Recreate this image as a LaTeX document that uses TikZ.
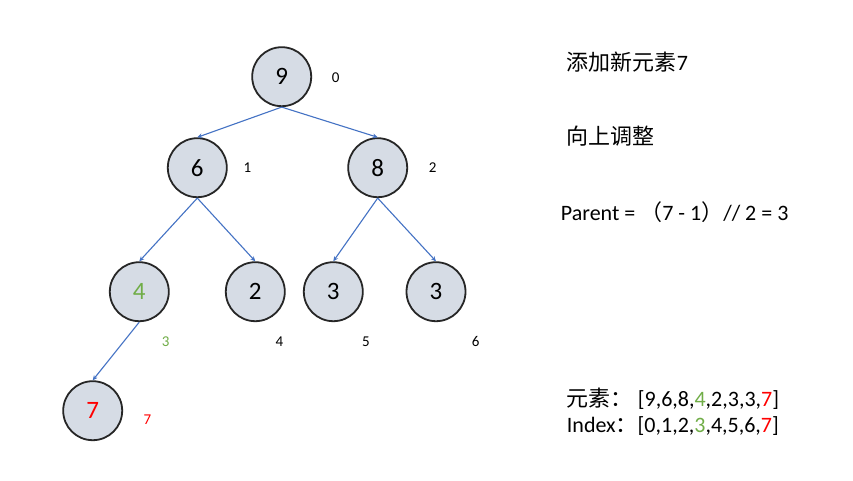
\documentclass[tikz,border=0pt]{standalone}
\usepackage{fontspec}
\setmainfont{Carlito}
\newfontfamily\cjk{Noto Sans CJK SC}
\usetikzlibrary{arrows.meta}
\definecolor{nodefill}{HTML}{D6DCE5}
\definecolor{nodeline}{HTML}{262626}
\definecolor{edgeblue}{HTML}{4472C4}
\definecolor{newgreen}{HTML}{70AD47}
\definecolor{newred}{HTML}{FF0000}
\begin{document}
\begin{tikzpicture}[x=1pt,y=-1pt]
    \tikzstyle{heapnode}=[circle,draw=nodeline,fill=nodefill,line width=1.8pt,minimum size=59pt,inner sep=0pt,font=\fontsize{25}{29}\selectfont]
    \tikzstyle{idx}=[inner sep=0pt,font=\fontsize{15}{17}\selectfont]
    \tikzstyle{note}=[anchor=west,inner sep=0pt,font=\fontsize{22}{26}\selectfont]
    \tikzstyle{edge}=[edgeblue,line width=1.1pt,-{Stealth[length=5pt,width=4.5pt]}]
    \useasboundingbox[fill=white] (0,0) rectangle (853,481);

    % heap
    \node[heapnode] (n0) at (281.7,76.7)  {9};
    \node[heapnode] (n1) at (197.3,167.7) {6};
    \node[heapnode] (n2) at (377.7,167.7) {8};
    \node[heapnode] (n3) at (139.3,291.7) {\color{newgreen}4};
    \node[heapnode] (n4) at (255.3,291.7) {2};
    \node[heapnode] (n5) at (333.3,291.7) {3};
    \node[heapnode] (n6) at (436,291.7)   {3};
    \node[heapnode] (n7) at (92.7,410.7)  {\color{newred}7};

    % index labels
    \node[idx] (l0) at (335.7,77.7)  {0};
    \node[idx] (l1) at (247.3,167.7) {1};
    \node[idx] (l2) at (432.7,167.7) {2};
    \node[idx,newgreen] (l3) at (165.7,341.7) {3};
    \node[idx] (l4) at (279.3,341.7) {4};
    \node[idx] (l5) at (366,341.7)   {5};
    \node[idx] (l6) at (475.7,341.7) {6};
    \node[idx,newred] (l7) at (147.3,420) {7};

    \draw[edge] (n0.south) -- (n1.north);
    \draw[edge] (n0.south) -- (n2.north);
    \draw[edge] (n1.south) -- (n3.north);
    \draw[edge] (n1.south) -- (n4.north);
    \draw[edge] (n2.south) -- (n5.north);
    \draw[edge] (n2.south) -- (n6.north);
    \draw[edge] (n3.south) -- (n7.north);

    % notes
    \node[note] (t1) at (566.7,61.7) {{\cjk 添加新元素}7};
    \node[note] (t2) at (566.7,136)  {\cjk 向上调整};
    \node[note] (t3) at (560.7,211.7) {Parent = {\cjk （}7 - 1{\cjk ）}// 2 = 3};
    \node[note] (t4) at (566.7,399) {{\cjk 元素：} [9,6,8,{\color{newgreen}4},2,3,3,{\color{newred}7}]};
    \node[note] (t5) at (566.7,426) {Index{\cjk ：}[0,1,2,{\color{newgreen}3},4,5,6,{\color{newred}7}]};

\end{tikzpicture}
\end{document}
